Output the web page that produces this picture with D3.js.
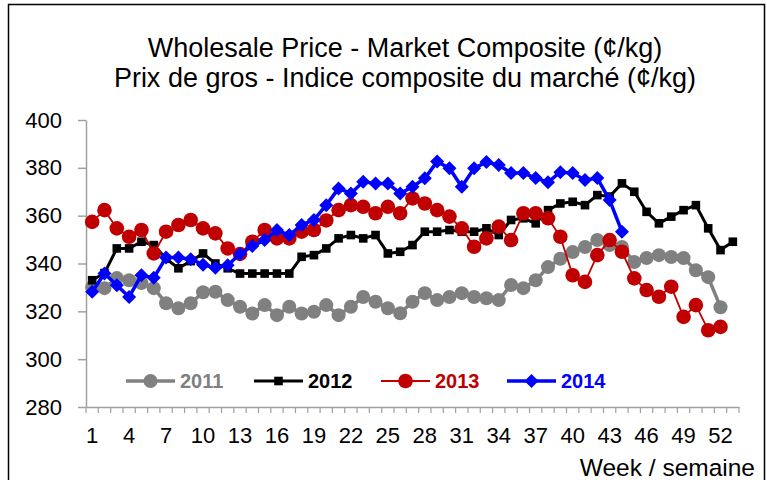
<!DOCTYPE html>
<html>
<head>
<meta charset="utf-8">
<script src="https://cdn.jsdelivr.net/npm/d3@7"></script>
<style>
  body { margin: 0; background: #fff; }
  text { font-family: "Liberation Sans", Arial, sans-serif; }
</style>
</head>
<body>
<svg id="chart" width="767" height="480"></svg>
<script>

var weeks = d3.range(1, 54)
var weekLabels = weeks.filter(w => (w - 1) % 3 == 0)
var yTicks = [280, 300, 320, 340, 360, 380, 400]

var s2011 = [330, 329.7, 333.9, 333, 331.8, 329.7, 323.4, 321.3, 323.4, 328, 328.2, 324.7, 321.9, 319.1, 322.6, 318.4, 321.9, 319.1, 319.8, 322.6, 318.4, 321.9, 326, 324, 321.3, 319.2, 324, 327.6, 324.7, 326, 327.6, 326, 325.5, 324.7, 331, 329.7, 333, 338.5, 342, 344.8, 346.9, 349.8, 347.7, 346.9, 340.6, 342.3, 343.5, 342.7, 342.3, 337.2, 334.3, 321.7]
var s2012 = [333, 336, 346.3, 346.3, 349.1, 347.7, 342, 338, 341, 344.2, 340, 338, 335.8, 335.8, 335.8, 335.8, 335.8, 342.8, 343.5, 346.3, 350.5, 351.9, 350.5, 351.9, 344.2, 344.9, 347.7, 353.3, 353.3, 354, 353.3, 353.3, 354.7, 351.9, 358.2, 358.9, 356.8, 362.3, 365.1, 365.8, 364.4, 368.6, 368, 373.5, 370, 361.6, 356.8, 359.6, 362.3, 364.4, 354.7, 345.6, 349.1]
var s2013 = [357.4, 362.3, 354.7, 351.2, 354, 344.2, 353.3, 356.1, 358.2, 354.7, 352.6, 346.3, 344, 349.1, 354, 350.5, 350.5, 353.3, 354, 358, 362.3, 364.4, 363.7, 361, 363.7, 361, 367.2, 365.1, 362.3, 359.6, 354.7, 347, 350.5, 355.4, 349.8, 361, 361, 358.9, 351.2, 335.1, 332.3, 343.5, 349.8, 344.9, 333.8, 328.9, 326.1, 330.3, 317.7, 322.6, 312.1, 313.5]
var s2014 = [328.2, 335.8, 330.9, 326, 335.1, 334, 342.5, 342.5, 341.8, 339.5, 338.2, 339.3, 344, 347.3, 349.8, 354, 351.9, 356.1, 358.2, 364.4, 371.4, 369.3, 374.2, 373.5, 373.5, 369.3, 372.1, 375.6, 382.6, 379.8, 372.1, 379.8, 382.4, 381.2, 377.8, 377.8, 375.7, 374, 378.2, 377.8, 374.9, 375.7, 366.5, 353.3]

var series = [
  {name: '2011', values: s2011, color: '#808080', width: 3.5, marker: 'circle', size: 7},
  {name: '2012', values: s2012, color: '#000000', width: 3, marker: 'square', size: 4.3},
  {name: '2013', values: s2013, color: '#c00000', width: 1.8, marker: 'circle', size: 7.3},
  {name: '2014', values: s2014, color: '#0000ff', width: 3.5, marker: 'diamond', size: 7}
]

var axisColor = '#a0a0a0'

var svg = d3.select('#chart')

svg.append('rect')
    .attr('x', 8.5).attr('y', 4.5)
    .attr('width', 756).attr('height', 500)
    .attr('fill', 'none')
    .attr('stroke', '#000')
    .attr('stroke-width', 1.5)

var x = d3.scaleBand().domain(weeks).range([86, 739])
var cx = w => x(w) + x.bandwidth() / 2
var y = d3.scaleLinear().domain([280, 400]).range([407, 120])

// title
svg.append('g')
    .attr('text-anchor', 'middle')
    .style('font-size', '27px')
  .selectAll('text')
  .data(['Wholesale Price - Market Composite (¢/kg)', 'Prix de gros - Indice composite du marché (¢/kg)'])
  .enter().append('text')
    .attr('x', 405)
    .attr('y', (d, i) => 57 + i * 30)
    .text(d => d)

// y axis
var yAxis = svg.append('g')
    .attr('transform', 'translate(86,0)')
    .call(d3.axisLeft(y).tickValues(yTicks).tickSize(8).tickPadding(16).tickSizeOuter(0))
yAxis.select('.domain').attr('stroke', axisColor).attr('stroke-width', 1.5)
yAxis.selectAll('.tick line').attr('stroke', axisColor).attr('stroke-width', 1.5)
yAxis.selectAll('.tick text')
    .attr('fill', '#000')
    .style('font-size', '22px')
    .style('font-family', '"Liberation Sans", Arial, sans-serif')

// x axis
var xAxis = svg.append('g')
    .attr('transform', 'translate(0,407)')
    .call(d3.axisBottom(x).tickValues(weekLabels).tickSize(0).tickPadding(20).tickSizeOuter(0))
xAxis.select('.domain').attr('stroke', axisColor).attr('stroke-width', 1.5)
xAxis.selectAll('.tick text')
    .attr('fill', '#000')
    .style('font-size', '22px')
    .style('font-family', '"Liberation Sans", Arial, sans-serif')

xAxis.selectAll('line.sep')
  .data(weeks.map(w => x(w)).concat([x.range()[1]]))
  .enter().append('line')
    .attr('class', 'sep')
    .attr('x1', d => d).attr('x2', d => d)
    .attr('y1', 0).attr('y2', 6)
    .attr('stroke', axisColor)
    .attr('stroke-width', 1.2)

svg.append('text')
    .attr('x', 755)
    .attr('y', 476)
    .attr('text-anchor', 'end')
    .style('font-size', '24.5px')
    .text('Week / semaine')

function drawMarker(sel, s) {
  if (s.marker == 'circle') {
    sel.append('circle').attr('r', s.size)
  } else if (s.marker == 'square') {
    sel.append('rect')
        .attr('x', -s.size).attr('y', -s.size)
        .attr('width', 2 * s.size).attr('height', 2 * s.size)
  } else {
    sel.append('path')
        .attr('d', `M0,${-s.size}L${s.size},0L0,${s.size}L${-s.size},0Z`)
  }
}

var line = d3.line()
    .x((d, i) => cx(weeks[i]))
    .y(d => y(d))

series.forEach(function(s) {
  var g = svg.append('g')
  g.append('path')
      .datum(s.values)
      .attr('fill', 'none')
      .attr('stroke', s.color)
      .attr('stroke-width', s.width)
      .attr('stroke-linejoin', 'round')
      .attr('d', line)
  g.selectAll('g.pt')
    .data(s.values)
    .enter().append('g')
      .attr('class', 'pt')
      .attr('fill', s.color)
      .attr('transform', (d, i) => `translate(${cx(weeks[i])},${y(d)})`)
      .each(function() { drawMarker(d3.select(this), s) })
})

// legend
var legendX = [126, 254, 381, 507]
var legend = svg.append('g')
  .selectAll('g')
  .data(series)
  .enter().append('g')
    .attr('transform', (d, i) => `translate(${legendX[i]},381)`)

legend.append('line')
    .attr('x1', 0).attr('x2', 49)
    .attr('stroke', d => d.color)
    .attr('stroke-width', d => d.width)

legend.append('g')
    .attr('transform', 'translate(24.5,0)')
    .attr('fill', d => d.color)
    .each(function(d) { drawMarker(d3.select(this), d) })

legend.append('text')
    .attr('x', 54)
    .attr('dy', '0.36em')
    .attr('fill', d => d.color)
    .style('font-size', '20px')
    .style('font-weight', 'bold')
    .text(d => d.name)

</script>
</body>
</html>
